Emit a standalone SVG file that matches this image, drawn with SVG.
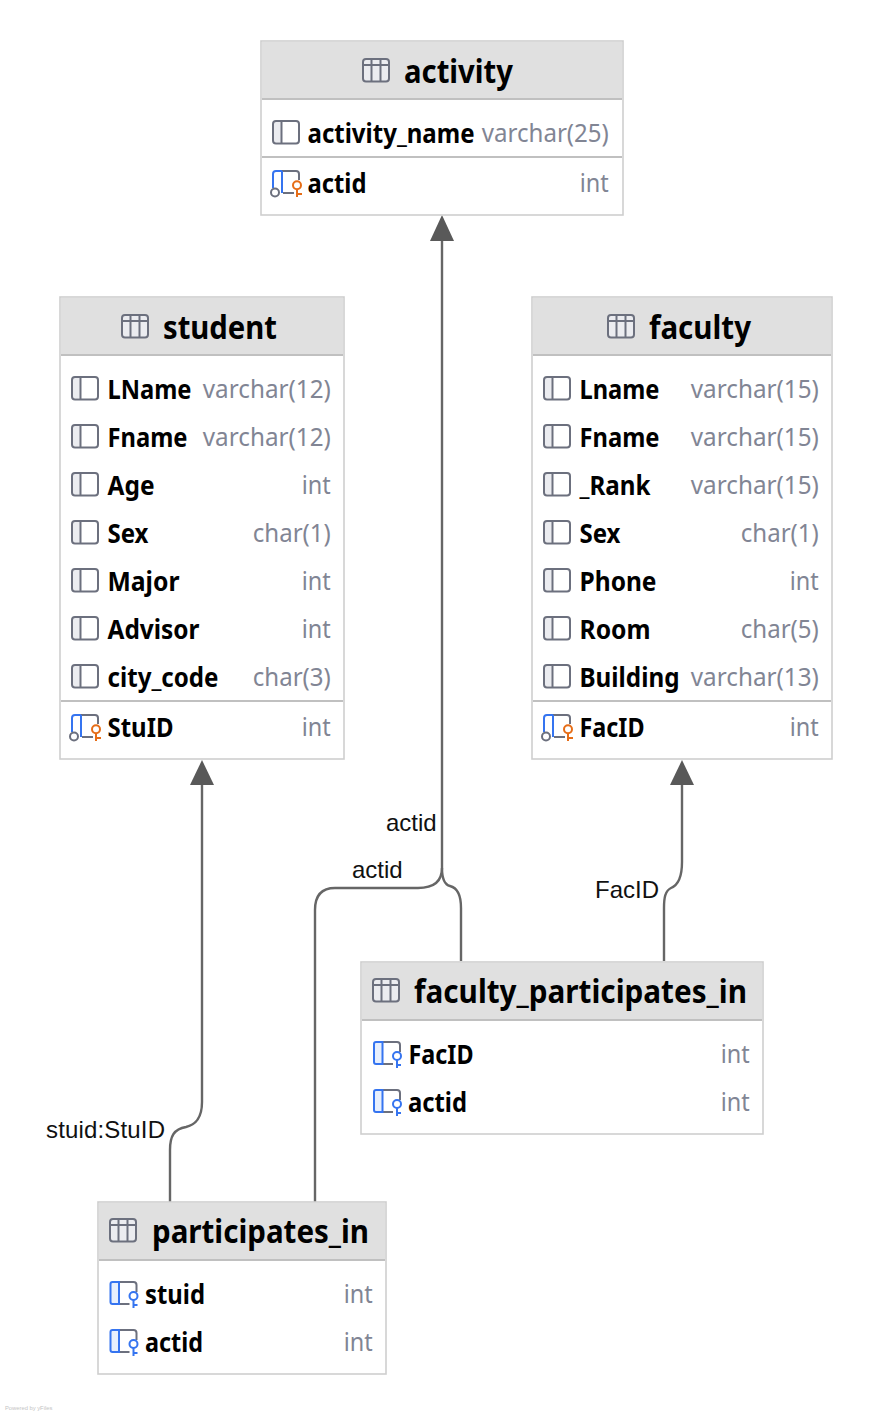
<svg xmlns="http://www.w3.org/2000/svg" width="874" height="1416" viewBox="0 0 874 1416">
<style>
.box{fill:#fff;stroke:#cfcfcf;stroke-width:1.6}
.hd{fill:#e0e0e0}
.sep{stroke:#c0c0c0;stroke-width:2.2;fill:none}
.t{font-family:"Noto Sans","Open Sans",sans-serif;font-weight:700;font-size:32px;fill:#000}
.n{font-family:"Noto Sans","Open Sans",sans-serif;font-weight:700;font-size:26px;fill:#000;transform:translateY(1px)}
.y{font-family:"Noto Sans","Open Sans",sans-serif;font-size:26px;fill:#818594;text-anchor:end;transform:translateX(-.7px)}
.e{fill:none;stroke:#666;stroke-width:2.4}
.a{fill:#595959}
.l{font-family:"Liberation Sans",Arial,sans-serif;font-size:24px;fill:#111}
.g{fill:none;stroke:#6c707e;stroke-width:2}
.b{fill:none;stroke:#3574f0;stroke-width:2}
.o{fill:none;stroke:#e66d17;stroke-width:2}
</style>
<defs>
<g id="tbl"><rect x="1" y="-11" width="26" height="22.500" rx="3" fill="#ebecf0" stroke="#6c707e" stroke-width="2"/><path class="g" d="M1-5H27M9.500-11V11.500M18.500-11V11.500"/></g>
<g id="col"><path d="M1-9a2 2 0 0 1 2-2h7v20H3a2 2 0 0 1-2-2z" fill="#ebecf0"/><rect x="1" y="-12" width="26" height="22.500" rx="3" class="g"/><path class="g" d="M9.500-12V10"/></g>
<g id="pk"><path class="g" d="M9-12H24a3 3 0 0 1 3 3V-3M11 10H22"/><path d="M10-12H4a3 3 0 0 0-3 3V5M10-12V10" class="b"/><circle cx="3" cy="9.500" r="4" fill="#fff" stroke="#6c707e" stroke-width="2"/><circle cx="25" cy="2.300" r="4" class="o"/><path class="o" d="M25 6.500V14M25 11H30"/></g>
<g id="fk"><path class="g" d="M9-12H24a3 3 0 0 1 3 3V-2M10 10H20"/><path d="M9.500-12H3a2 2 0 0 0-2 2V8a2 2 0 0 0 2 2H9.500z" fill="#e7effd" stroke="#3574f0" stroke-width="2"/><circle cx="24" cy="2" r="4" fill="#fff" stroke="#3574f0" stroke-width="2"/><path class="b" d="M24 6V14M24 11H28"/></g>
</defs>
<g id="connectors">
<path class="e" d="M442 240V868C442 880 436 888 418 888H335C321 888 315 896 315 910V1202"/>
<path class="e" d="M442 868C442 880 446 885 450 886C458 888 461 896 461 908V961"/>
<path class="e" d="M202 784V1102C202 1120 194 1125 186 1127C174 1129 170 1136 170 1150V1202"/>
<path class="e" d="M682 784V862C682 880 676 886 671 888C665 891 664 898 664 908V961"/>
<path class="a" d="M442 215L454 241H430Z"/>
<path class="a" d="M202 760L214 785H190Z"/>
<path class="a" d="M682 760L694 785H670Z"/>
<text class="l" x="386" y="831">actid</text>
<text class="l" x="352" y="878">actid</text>
<text class="l" x="595" y="898">FacID</text>
<text class="l" x="46" y="1138" textLength="119" lengthAdjust="spacing">stuid:StuID</text>
</g>
<g id="activity">
<rect class="box" x="261" y="41" width="362" height="174"/><rect class="hd" x="262" y="42" width="360" height="57"/><path class="sep" d="M262 99H622M262 157H622"/>
<use href="#tbl" x="362" y="70"/><text class="t" x="404" y="83" textLength="109" lengthAdjust="spacingAndGlyphs">activity</text>
<use href="#col" x="272" y="133"/><text class="n" x="307.500" y="142" textLength="167" lengthAdjust="spacingAndGlyphs">activity_name</text><text class="y" x="609.500" y="142" textLength="127" lengthAdjust="spacingAndGlyphs">varchar(25)</text>
<use href="#pk" x="272" y="183"/><text class="n" x="307.500" y="192" textLength="59" lengthAdjust="spacingAndGlyphs">actid</text><text class="y" x="609.500" y="192" textLength="29" lengthAdjust="spacingAndGlyphs">int</text>
</g>
<g id="student">
<rect class="box" x="60" y="297" width="284" height="462"/><rect class="hd" x="61" y="298" width="282" height="57"/><path class="sep" d="M61 355H343M61 701H343"/>
<use href="#tbl" x="121" y="326"/><text class="t" x="163" y="339" textLength="114" lengthAdjust="spacingAndGlyphs">student</text>
<use href="#col" x="71" y="389"/><text class="n" x="107.500" y="398" textLength="84" lengthAdjust="spacingAndGlyphs">LName</text><text class="y" x="331.500" y="398" textLength="128" lengthAdjust="spacingAndGlyphs">varchar(12)</text>
<use href="#col" x="71" y="437"/><text class="n" x="107.500" y="446" textLength="80" lengthAdjust="spacingAndGlyphs">Fname</text><text class="y" x="331.500" y="446" textLength="128" lengthAdjust="spacingAndGlyphs">varchar(12)</text>
<use href="#col" x="71" y="485"/><text class="n" x="107.500" y="494" textLength="47" lengthAdjust="spacingAndGlyphs">Age</text><text class="y" x="331.500" y="494" textLength="29" lengthAdjust="spacingAndGlyphs">int</text>
<use href="#col" x="71" y="533"/><text class="n" x="107.500" y="542" textLength="41" lengthAdjust="spacingAndGlyphs">Sex</text><text class="y" x="331.500" y="542" textLength="78" lengthAdjust="spacingAndGlyphs">char(1)</text>
<use href="#col" x="71" y="581"/><text class="n" x="107.500" y="590" textLength="72" lengthAdjust="spacingAndGlyphs">Major</text><text class="y" x="331.500" y="590" textLength="29" lengthAdjust="spacingAndGlyphs">int</text>
<use href="#col" x="71" y="629"/><text class="n" x="107.500" y="638" textLength="92" lengthAdjust="spacingAndGlyphs">Advisor</text><text class="y" x="331.500" y="638" textLength="29" lengthAdjust="spacingAndGlyphs">int</text>
<use href="#col" x="71" y="677"/><text class="n" x="107.500" y="686" textLength="111" lengthAdjust="spacingAndGlyphs">city_code</text><text class="y" x="331.500" y="686" textLength="78" lengthAdjust="spacingAndGlyphs">char(3)</text>
<use href="#pk" x="71" y="727"/><text class="n" x="107.500" y="736" textLength="66" lengthAdjust="spacingAndGlyphs">StuID</text><text class="y" x="331.500" y="736" textLength="29" lengthAdjust="spacingAndGlyphs">int</text>
</g>
<g id="faculty">
<rect class="box" x="532" y="297" width="300" height="462"/><rect class="hd" x="533" y="298" width="298" height="57"/><path class="sep" d="M533 355H831M533 701H831"/>
<use href="#tbl" x="607" y="326"/><text class="t" x="649" y="339" textLength="102" lengthAdjust="spacingAndGlyphs">faculty</text>
<use href="#col" x="543" y="389"/><text class="n" x="579.500" y="398" textLength="80" lengthAdjust="spacingAndGlyphs">Lname</text><text class="y" x="819.500" y="398" textLength="128" lengthAdjust="spacingAndGlyphs">varchar(15)</text>
<use href="#col" x="543" y="437"/><text class="n" x="579.500" y="446" textLength="80" lengthAdjust="spacingAndGlyphs">Fname</text><text class="y" x="819.500" y="446" textLength="128" lengthAdjust="spacingAndGlyphs">varchar(15)</text>
<use href="#col" x="543" y="485"/><text class="n" x="579.500" y="494" textLength="71" lengthAdjust="spacingAndGlyphs">_Rank</text><text class="y" x="819.500" y="494" textLength="128" lengthAdjust="spacingAndGlyphs">varchar(15)</text>
<use href="#col" x="543" y="533"/><text class="n" x="579.500" y="542" textLength="41" lengthAdjust="spacingAndGlyphs">Sex</text><text class="y" x="819.500" y="542" textLength="78" lengthAdjust="spacingAndGlyphs">char(1)</text>
<use href="#col" x="543" y="581"/><text class="n" x="579.500" y="590" textLength="77" lengthAdjust="spacingAndGlyphs">Phone</text><text class="y" x="819.500" y="590" textLength="29" lengthAdjust="spacingAndGlyphs">int</text>
<use href="#col" x="543" y="629"/><text class="n" x="579.500" y="638" textLength="71" lengthAdjust="spacingAndGlyphs">Room</text><text class="y" x="819.500" y="638" textLength="78" lengthAdjust="spacingAndGlyphs">char(5)</text>
<use href="#col" x="543" y="677"/><text class="n" x="579.500" y="686" textLength="100" lengthAdjust="spacingAndGlyphs">Building</text><text class="y" x="819.500" y="686" textLength="128" lengthAdjust="spacingAndGlyphs">varchar(13)</text>
<use href="#pk" x="543" y="727"/><text class="n" x="579.500" y="736" textLength="65" lengthAdjust="spacingAndGlyphs">FacID</text><text class="y" x="819.500" y="736" textLength="29" lengthAdjust="spacingAndGlyphs">int</text>
</g>
<g id="faculty_participates_in">
<rect class="box" x="361" y="962" width="402" height="172"/><rect class="hd" x="362" y="963" width="400" height="57"/><path class="sep" d="M362 1020H762"/>
<use href="#tbl" x="372" y="990"/><text class="t" x="414" y="1003" textLength="333" lengthAdjust="spacingAndGlyphs">faculty_participates_in</text>
<use href="#fk" x="373" y="1054"/><text class="n" x="408.500" y="1063" textLength="65" lengthAdjust="spacingAndGlyphs">FacID</text><text class="y" x="750.500" y="1063" textLength="29" lengthAdjust="spacingAndGlyphs">int</text>
<use href="#fk" x="373" y="1102"/><text class="n" x="408" y="1111" textLength="59" lengthAdjust="spacingAndGlyphs">actid</text><text class="y" x="750.500" y="1111" textLength="29" lengthAdjust="spacingAndGlyphs">int</text>
</g>
<g id="participates_in">
<rect class="box" x="98" y="1202" width="288" height="172"/><rect class="hd" x="99" y="1203" width="286" height="57"/><path class="sep" d="M99 1260H385"/>
<use href="#tbl" x="109" y="1230"/><text class="t" x="152" y="1243" textLength="217" lengthAdjust="spacingAndGlyphs">participates_in</text>
<use href="#fk" x="109.500" y="1294"/><text class="n" x="145" y="1303" textLength="60" lengthAdjust="spacingAndGlyphs">stuid</text><text class="y" x="373.500" y="1303" textLength="29" lengthAdjust="spacingAndGlyphs">int</text>
<use href="#fk" x="109.500" y="1342"/><text class="n" x="145" y="1351" textLength="58" lengthAdjust="spacingAndGlyphs">actid</text><text class="y" x="373.500" y="1351" textLength="29" lengthAdjust="spacingAndGlyphs">int</text>
</g>
<text x="5" y="1410" font-family="Liberation Sans,Arial,sans-serif" font-size="5.800" fill="#c4c4c4">Powered by yFiles</text>
</svg>
